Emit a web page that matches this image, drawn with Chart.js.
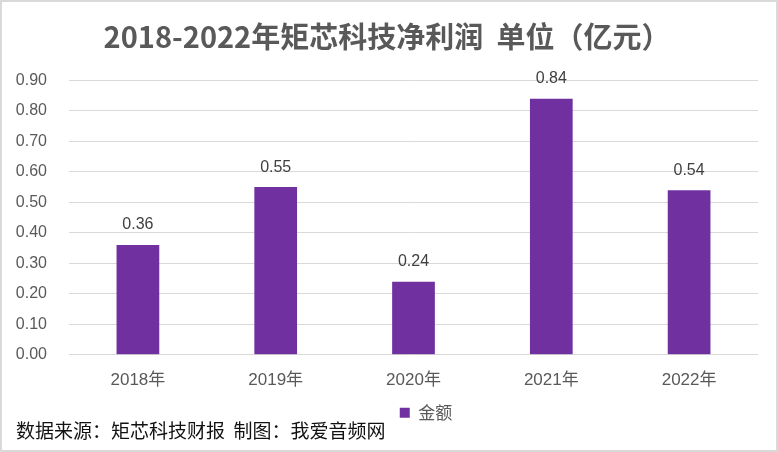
<!DOCTYPE html>
<html>
<head>
<meta charset="utf-8">
<script src="https://cdn.jsdelivr.net/npm/chart.js@4"></script>
<style>
html,body{margin:0;padding:0;background:#fff;}
#wrap{width:778px;height:452px;position:relative;}
</style>
</head>
<body>
<div id="wrap"><canvas id="c" width="778" height="452"></canvas></div>
<script>
const categories = ["2018年", "2019年", "2020年", "2021年", "2022年"];
const netProfit = [0.36, 0.55, 0.24, 0.84, 0.54];
const seriesName = "金额";
const titleText = "2018-2022年矩芯科技净利润  单位（亿元）";
const sourceText = "数据来源：矩芯科技财报  制图：我爱音频网";
const yMin = 0, yMax = 0.9, yStep = 0.1;

const frame = {
  id: 'frame',
  beforeDraw(chart) {
    const ctx = chart.ctx;
    ctx.save();
    ctx.fillStyle = '#fff';
    ctx.fillRect(0, 0, chart.width, chart.height);
    ctx.restore();
  },
  afterDraw(chart) {
    const ctx = chart.ctx;
    ctx.save();
    ctx.strokeStyle = '#d9d9d9';
    ctx.lineWidth = 2;
    ctx.strokeRect(1, 1, chart.width - 2, chart.height - 2);
    ctx.restore();
  }
};

const dataLabels = {
  id: 'dataLabels',
  afterDatasetsDraw(chart) {
    const ctx = chart.ctx;
    ctx.save();
    ctx.font = '16px "Liberation Sans", "Noto Sans CJK SC", sans-serif';
    ctx.fillStyle = '#404040';
    ctx.textAlign = 'center';
    ctx.textBaseline = 'middle';
    chart.data.datasets.forEach((ds, i) => {
      chart.getDatasetMeta(i).data.forEach((bar, j) => {
        ctx.fillText(ds.data[j].toFixed(2), bar.x, bar.y - 20);
      });
    });
    ctx.restore();
  }
};

const legendShift = {
  id: 'legendShift',
  afterLayout(chart) {
    const lg = chart.legend;
    if (lg) { lg.left += 39; lg.right += 39; }
  }
};

new Chart(document.getElementById('c'), {
  type: 'bar',
  data: {
    labels: categories,
    datasets: [{
      label: seriesName,
      data: netProfit,
      backgroundColor: '#7030A0',
      borderWidth: 0,
      barPercentage: 0.31,
      categoryPercentage: 1.0
    }]
  },
  options: {
    responsive: false,
    animation: false,
    devicePixelRatio: 1,
    layout: { padding: { left: 16, right: 20, top: 4, bottom: 10 } },
    plugins: {
      title: {
        display: true,
        text: titleText,
        color: '#595959',
        font: { family: '"Noto Sans CJK SC", sans-serif', size: 29, weight: 'bold' },
        padding: { top: 16, bottom: 25.6 }
      },
      subtitle: {
        display: true,
        position: 'bottom',
        align: 'start',
        text: sourceText,
        color: '#111111',
        font: { family: '"Noto Sans CJK SC", sans-serif', size: 19, weight: 'normal' },
        padding: { top: -12, bottom: 0 }
      },
      legend: {
        display: true,
        position: 'bottom',
        labels: {
          boxWidth: 10,
          boxHeight: 10,
          color: '#595959',
          padding: 4,
          font: { family: '"Noto Sans CJK SC", sans-serif', size: 17 }
        }
      },
      tooltip: { enabled: false }
    },
    scales: {
      x: {
        grid: { display: false, drawTicks: false },
        border: { display: false },
        ticks: {
          color: '#595959',
          padding: 15,
          font: { family: '"Liberation Sans", "Noto Sans CJK SC", sans-serif', size: 17 }
        },
        afterFit(scale) { scale.height -= 5; }
      },
      y: {
        min: yMin,
        max: yMax,
        grid: { color: '#d9d9d9', lineWidth: 1, drawTicks: false },
        border: { display: false },
        ticks: {
          stepSize: yStep,
          color: '#595959',
          padding: 22,
          font: { family: '"Liberation Sans", sans-serif', size: 16 },
          callback: v => Number(v).toFixed(2)
        },
        afterFit(scale) { scale.width = 53; }
      }
    }
  },
  plugins: [frame, dataLabels, legendShift]
});
</script>
</body>
</html>
